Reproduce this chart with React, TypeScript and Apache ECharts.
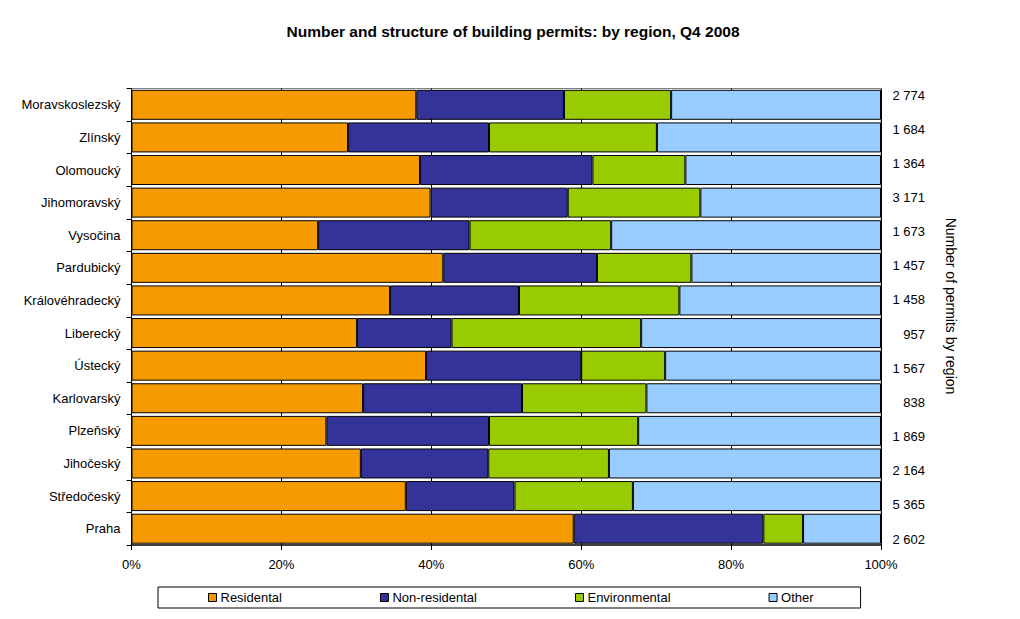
import React, { useEffect, useRef } from "react";
import * as echarts from "echarts";

// Categories listed bottom -> top (ECharts category y axis starts at bottom)
const regions = [
  "Praha",
  "Středočeský",
  "Jihočeský",
  "Plzeňský",
  "Karlovarský",
  "Ústecký",
  "Liberecký",
  "Královéhradecký",
  "Pardubický",
  "Vysočina",
  "Jihomoravský",
  "Olomoucký",
  "Zlínský",
  "Moravskoslezský",
];

// Shares in %
const residential = [59.0, 36.6, 30.6, 26.0, 30.9, 39.3, 30.1, 34.5, 41.6, 24.9, 39.9, 38.5, 28.9, 38.0];
const nonResidential = [25.3, 14.5, 17.0, 21.7, 21.2, 20.7, 12.6, 17.2, 20.5, 20.2, 18.3, 23.0, 18.8, 19.7];
const environmental = [5.3, 15.8, 16.1, 19.9, 16.6, 11.2, 25.3, 21.4, 12.6, 18.9, 17.7, 12.4, 22.4, 14.3];
const other = [10.4, 33.1, 36.3, 32.4, 31.3, 28.8, 32.0, 26.9, 25.3, 36.0, 24.1, 26.1, 29.9, 28.0];

// Number of permits by region (right-hand labels), bottom -> top
const totals = ["2 602", "5 365", "2 164", "1 869", "838", "1 567", "957", "1 458", "1 457", "1 673", "3 171", "1 364", "1 684", "2 774"];

const seriesNames = ["Residental", "Non-residental", "Environmental", "Other"];
const seriesColors = ["#F59B00", "#333399", "#99CC00", "#99CCFF"];
const xTicks = [0, 20, 40, 60, 80, 100];

const FONT = "'Liberation Sans', Arial, sans-serif";

export default function App() {
  const ref = useRef<HTMLDivElement>(null);

  useEffect(() => {
    document.body.style.margin = "0";
    if (!ref.current) return;
    const chart = echarts.init(ref.current, null, { renderer: "svg" });
    const values = [residential, nonResidential, environmental, other];

    const option: any = {
      animation: false,
      backgroundColor: "#ffffff",
      textStyle: { fontFamily: FONT, color: "#000" },
      title: {
        text: "Number and structure of building permits: by region, Q4 2008",
        left: 508,
        top: 18,
        textAlign: "center",
        textStyle: { fontFamily: FONT, fontSize: 15.5, fontWeight: "bold", color: "#000" },
      },
      legend: {
        data: seriesNames,
        left: 158,
        top: 587,
        orient: "horizontal",
        padding: [4, 47, 4, 50],
        borderColor: "#000",
        borderWidth: 1,
        itemWidth: 8,
        itemHeight: 8,
        itemGap: 98,
        icon: "rect",
        itemStyle: { borderColor: "#000", borderWidth: 1 },
        textStyle: { fontFamily: FONT, fontSize: 13, color: "#000", padding: [0, 0, 0, -1] },
      },
      grid: [
        { left: 131.5, right: 139, top: 88.5, bottom: 74, containLabel: false },
        { left: 131.5, right: 139, top: 95, bottom: 80, containLabel: false },
      ],
      xAxis: [
        {
          type: "value",
          gridIndex: 0,
          min: 0,
          max: 100,
          interval: 20,
          axisLine: { show: true, lineStyle: { color: "#000", width: 1.5 } },
          axisTick: { show: true, length: 5, lineStyle: { color: "#000" } },
          axisLabel: {
            formatter: (v: number) => (xTicks.indexOf(v) >= 0 ? v + "%" : ""),
            fontFamily: FONT,
            fontSize: 13,
            color: "#000",
            margin: 13,
          },
          splitLine: { show: true, lineStyle: { color: "#000", width: 1 } },
        },
        {
          type: "value",
          gridIndex: 1,
          min: 0,
          max: 1,
          show: false,
        },
      ],
      yAxis: [
        {
          type: "category",
          gridIndex: 0,
          data: regions,
          axisLine: { show: true, lineStyle: { color: "#000", width: 1 } },
          axisTick: { show: true, length: 5, lineStyle: { color: "#000" } },
          axisLabel: { fontFamily: FONT, fontSize: 13, color: "#000", margin: 11 },
          splitLine: { show: false },
        },
        {
          type: "category",
          gridIndex: 1,
          data: totals,
          position: "right",
          boundaryGap: false,
          axisLine: { show: false },
          axisTick: { show: false },
          splitLine: { show: false },
          axisLabel: { fontFamily: FONT, fontSize: 13, color: "#000", align: "right", margin: 44 },
        },
      ],
      graphic: [
        {
          type: "line",
          shape: { x1: 131.5, y1: 88.5, x2: 881, y2: 88.5 },
          style: { stroke: "#808080", lineWidth: 1 },
          z: 0,
        },
        {
          type: "line",
          shape: { x1: 881, y1: 88.5, x2: 881, y2: 545 },
          style: { stroke: "#808080", lineWidth: 1 },
          z: 0,
        },
        {
          type: "text",
          x: 951,
          y: 306,
          rotation: -Math.PI / 2,
          style: {
            text: "Number of permits by region",
            fontFamily: FONT,
            fontSize: 14,
            fill: "#000",
            align: "center",
            verticalAlign: "middle",
          },
        },
      ],
      series: seriesNames.map((name, i) => ({
        name,
        type: "bar",
        stack: "total",
        xAxisIndex: 0,
        yAxisIndex: 0,
        barCategoryGap: "8%",
        data: values[i],
        itemStyle: { color: seriesColors[i], borderColor: "#000", borderWidth: 1 },
        emphasis: { disabled: true },
      })),
    };

    chart.setOption(option);
    return () => chart.dispose();
  }, []);

  return <div ref={ref} style={{ width: 1020, height: 619 }} />;
}
